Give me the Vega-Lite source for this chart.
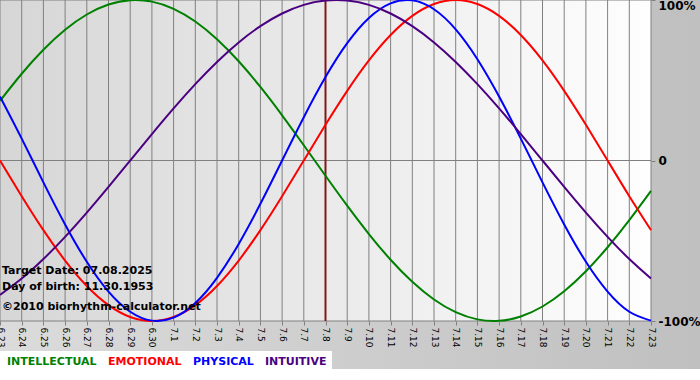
{
  "$schema": "https://vega.github.io/schema/vega-lite/v6.json",
  "width": 651,
  "height": 321,
  "autosize": "none",
  "padding": {"left": 0, "top": 0, "right": 49, "bottom": 59},
  "background": "#ffffff",
  "config": {"view": {"stroke": null}, "font": "DejaVu Sans"},
  "datasets": {
    "frame": [{"x": "2025-06-20", "x2": "2025-07-27", "y": 1.1, "y2": -1.299}],
    "plotbg": [{"x": "2025-06-23", "x2": "2025-07-23", "y": 1, "y2": -1}],
    "hlines": [{"v": 1}, {"v": 0}, {"v": -1}],
    "target": [{"day": "2025-07-08"}],
    "notes": [
      {"text": "Target Date: 07.08.2025", "day": "2025-06-23", "v": -0.69},
      {"text": "Day of birth: 11.30.1953", "day": "2025-06-23", "v": -0.79},
      {"text": "©2010 biorhythm-calculator.net", "day": "2025-06-23", "v": -0.915}
    ],
    "curves": [
      {"day": "2025-06-23", "INTELLECTUAL": 0.3717, "EMOTIONAL": 0, "PHYSICAL": 0.3984, "INTUITIVE": -0.8372},
      {"day": "2025-06-24", "INTELLECTUAL": 0.5406, "EMOTIONAL": -0.2225, "PHYSICAL": 0.1362, "INTUITIVE": -0.7357},
      {"day": "2025-06-25", "INTELLECTUAL": 0.6901, "EMOTIONAL": -0.4339, "PHYSICAL": -0.1362, "INTUITIVE": -0.6142},
      {"day": "2025-06-26", "INTELLECTUAL": 0.8146, "EMOTIONAL": -0.6235, "PHYSICAL": -0.3984, "INTUITIVE": -0.4759},
      {"day": "2025-06-27", "INTELLECTUAL": 0.9096, "EMOTIONAL": -0.7818, "PHYSICAL": -0.6311, "INTUITIVE": -0.3247},
      {"day": "2025-06-28", "INTELLECTUAL": 0.9718, "EMOTIONAL": -0.901, "PHYSICAL": -0.817, "INTUITIVE": -0.1646},
      {"day": "2025-06-29", "INTELLECTUAL": 0.9989, "EMOTIONAL": -0.9749, "PHYSICAL": -0.9423, "INTUITIVE": 0},
      {"day": "2025-06-30", "INTELLECTUAL": 0.9898, "EMOTIONAL": -1, "PHYSICAL": -0.9977, "INTUITIVE": 0.1646},
      {"day": "2025-07-01", "INTELLECTUAL": 0.945, "EMOTIONAL": -0.9749, "PHYSICAL": -0.9791, "INTUITIVE": 0.3247},
      {"day": "2025-07-02", "INTELLECTUAL": 0.866, "EMOTIONAL": -0.901, "PHYSICAL": -0.8879, "INTUITIVE": 0.4759},
      {"day": "2025-07-03", "INTELLECTUAL": 0.7557, "EMOTIONAL": -0.7818, "PHYSICAL": -0.7308, "INTUITIVE": 0.6142},
      {"day": "2025-07-04", "INTELLECTUAL": 0.6182, "EMOTIONAL": -0.6235, "PHYSICAL": -0.5196, "INTUITIVE": 0.7357},
      {"day": "2025-07-05", "INTELLECTUAL": 0.4582, "EMOTIONAL": -0.4339, "PHYSICAL": -0.2698, "INTUITIVE": 0.8372},
      {"day": "2025-07-06", "INTELLECTUAL": 0.2817, "EMOTIONAL": -0.2225, "PHYSICAL": 0, "INTUITIVE": 0.9158},
      {"day": "2025-07-07", "INTELLECTUAL": 0.0951, "EMOTIONAL": 0, "PHYSICAL": 0.2698, "INTUITIVE": 0.9694},
      {"day": "2025-07-08", "INTELLECTUAL": -0.0951, "EMOTIONAL": 0.2225, "PHYSICAL": 0.5196, "INTUITIVE": 0.9966},
      {"day": "2025-07-09", "INTELLECTUAL": -0.2817, "EMOTIONAL": 0.4339, "PHYSICAL": 0.7308, "INTUITIVE": 0.9966},
      {"day": "2025-07-10", "INTELLECTUAL": -0.4582, "EMOTIONAL": 0.6235, "PHYSICAL": 0.8879, "INTUITIVE": 0.9694},
      {"day": "2025-07-11", "INTELLECTUAL": -0.6182, "EMOTIONAL": 0.7818, "PHYSICAL": 0.9791, "INTUITIVE": 0.9158},
      {"day": "2025-07-12", "INTELLECTUAL": -0.7557, "EMOTIONAL": 0.901, "PHYSICAL": 0.9977, "INTUITIVE": 0.8372},
      {"day": "2025-07-13", "INTELLECTUAL": -0.866, "EMOTIONAL": 0.9749, "PHYSICAL": 0.9423, "INTUITIVE": 0.7357},
      {"day": "2025-07-14", "INTELLECTUAL": -0.945, "EMOTIONAL": 1, "PHYSICAL": 0.817, "INTUITIVE": 0.6142},
      {"day": "2025-07-15", "INTELLECTUAL": -0.9898, "EMOTIONAL": 0.9749, "PHYSICAL": 0.6311, "INTUITIVE": 0.4759},
      {"day": "2025-07-16", "INTELLECTUAL": -0.9989, "EMOTIONAL": 0.901, "PHYSICAL": 0.3984, "INTUITIVE": 0.3247},
      {"day": "2025-07-17", "INTELLECTUAL": -0.9718, "EMOTIONAL": 0.7818, "PHYSICAL": 0.1362, "INTUITIVE": 0.1646},
      {"day": "2025-07-18", "INTELLECTUAL": -0.9096, "EMOTIONAL": 0.6235, "PHYSICAL": -0.1362, "INTUITIVE": 0},
      {"day": "2025-07-19", "INTELLECTUAL": -0.8146, "EMOTIONAL": 0.4339, "PHYSICAL": -0.3984, "INTUITIVE": -0.1646},
      {"day": "2025-07-20", "INTELLECTUAL": -0.6901, "EMOTIONAL": 0.2225, "PHYSICAL": -0.6311, "INTUITIVE": -0.3247},
      {"day": "2025-07-21", "INTELLECTUAL": -0.5406, "EMOTIONAL": 0, "PHYSICAL": -0.817, "INTUITIVE": -0.4759},
      {"day": "2025-07-22", "INTELLECTUAL": -0.3717, "EMOTIONAL": -0.2225, "PHYSICAL": -0.9423, "INTUITIVE": -0.6142},
      {"day": "2025-07-23", "INTELLECTUAL": -0.1893, "EMOTIONAL": -0.4339, "PHYSICAL": -0.9977, "INTUITIVE": -0.7357}
    ]
  },
  "layer": [
    {
      "data": {"name": "frame"},
      "mark": {"type": "rect", "fill": {"gradient": "linear", "x1": 0, "y1": 0, "x2": 1, "y2": 0, "stops": [{"offset": 0, "color": "#dedede"}, {"offset": 1, "color": "#bebebe"}]}},
      "encoding": {
        "x": {"field": "x", "type": "temporal", "title": null, "scale": {"type": "utc", "domain": [{"year": 2025, "month": 6, "date": 23, "utc": true}, {"year": 2025, "month": 7, "date": 23, "utc": true}]}},
        "x2": {"field": "x2"},
        "y": {"field": "y", "type": "quantitative", "title": null, "scale": {"domain": [-1, 1], "nice": false, "zero": false}},
        "y2": {"field": "y2"}
      }
    },
    {
      "data": {"name": "plotbg"},
      "mark": {"type": "rect", "fill": {"gradient": "linear", "x1": 0, "y1": 0, "x2": 1, "y2": 0, "stops": [{"offset": 0, "color": "#d6d6d6"}, {"offset": 1, "color": "#fefefe"}]}},
      "encoding": {
        "x": {"field": "x", "type": "temporal", "title": null},
        "x2": {"field": "x2"},
        "y": {"field": "y", "type": "quantitative", "title": null},
        "y2": {"field": "y2"}
      }
    },
    {
      "data": {"name": "curves"},
      "mark": {"type": "rule", "color": "#808080", "strokeWidth": 1},
      "encoding": {"x": {"field": "day", "type": "temporal", "title": null}}
    },
    {
      "data": {"name": "hlines"},
      "mark": {"type": "rule", "color": "#808080", "strokeWidth": 1},
      "encoding": {"y": {"field": "v", "type": "quantitative", "title": null}}
    },
    {
      "data": {"name": "target"},
      "mark": {"type": "rule", "color": "#801818", "strokeWidth": 2},
      "encoding": {"x": {"field": "day", "type": "temporal", "title": null}}
    },
    {
      "data": {"name": "curves"},
      "transform": [{"fold": ["INTELLECTUAL", "EMOTIONAL", "PHYSICAL", "INTUITIVE"], "as": ["series", "value"]}],
      "mark": {"type": "line", "strokeWidth": 2, "interpolate": "natural"},
      "encoding": {
        "x": {"field": "day", "type": "temporal", "title": null,
          "axis": {"orient": "bottom", "grid": false, "domain": false, "tickSize": 4, "tickColor": "#808080", "labelAngle": 90, "labelFont": "DejaVu Sans", "labelFontSize": 9, "labelColor": "#000000", "labelPadding": 2, "format": "%-m.%-d", "tickCount": {"interval": "day", "step": 1}, "labelOverlap": false, "labelFlush": false, "labelBound": false, "zindex": 1}},
        "y": {"field": "value", "type": "quantitative", "title": null,
          "axis": {"orient": "right", "values": [-1, 0, 1], "grid": false, "domain": false, "tickSize": 4, "tickColor": "#808080", "labelFont": "DejaVu Sans", "labelFontSize": 12, "labelFontWeight": "bold", "labelColor": "#000000", "labelPadding": 3, "labelExpr": "datum.value == 0 ? '0' : (datum.value > 0 ? '100%' : '-100%')", "labelOverlap": false, "labelFlush": false, "labelBound": false, "zindex": 1,
            "labelBaseline": {"condition": {"test": "datum.value == 1", "value": "top"}, "value": "middle"}}},
        "color": {"field": "series", "type": "nominal",
          "scale": {"domain": ["INTELLECTUAL", "EMOTIONAL", "PHYSICAL", "INTUITIVE"], "range": ["#008000", "#ff0000", "#0000ff", "#4b0082"]},
          "legend": {"orient": "none", "legendX": -9, "legendY": 351, "direction": "horizontal", "title": null, "symbolSize": 0, "symbolStrokeWidth": 0, "symbolOpacity": 0, "labelOffset": 0, "columnPadding": -1, "labelFont": "DejaVu Sans", "labelFontSize": 11, "labelFontWeight": "bold", "labelLimit": 0, "fillColor": "#ffffff", "padding": 5,
            "encode": {"labels": {"update": {"fill": {"scale": "color", "field": "value"}}}}}}
      }
    },
    {
      "data": {"name": "notes"},
      "mark": {"type": "text", "align": "left", "baseline": "middle", "dx": 2, "font": "DejaVu Sans", "fontSize": 11, "fontWeight": "bold", "color": "#000000"},
      "encoding": {
        "x": {"field": "day", "type": "temporal", "title": null},
        "y": {"field": "v", "type": "quantitative", "title": null},
        "text": {"field": "text"}
      }
    }
  ]
}
